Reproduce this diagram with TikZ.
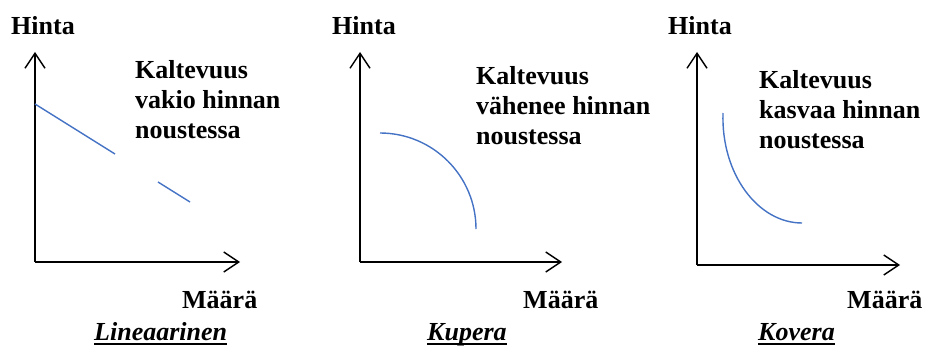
\documentclass[tikz,border=0pt]{standalone}
\usepackage{fontspec}
\setmainfont{Liberation Serif}
\usetikzlibrary{arrows.meta}
\definecolor{curveblue}{RGB}{68,114,196}
\begin{document}
\begin{tikzpicture}[x=1pt,y=-1pt,
  lbl/.style={inner sep=0pt,font=\fontsize{26}{30}\selectfont\bfseries,anchor=base west},
  desc/.style={inner sep=0pt,font=\fontsize{26}{30}\selectfont\bfseries,anchor=north west,align=left},
  ttl/.style={inner sep=0pt,font=\fontsize{26}{30}\selectfont\bfseries\itshape,anchor=base west},
  axis/.style={line width=1.6pt,-{Straight Barb[length=15pt,width=20pt,line width=1.4pt]}},
  curve/.style={line width=1.4pt,curveblue},
  uline/.style={line width=1.2pt}]
\useasboundingbox (0,0) rectangle (925,347);
% Panel 1
\coordinate (o1) at (35,262);
\coordinate (y1) at (35,52);
\coordinate (x1) at (240,262);
\draw[axis] (o1) -- (y1);
\draw[axis] (o1) -- (x1);
\node[lbl] (h1) at (11,35) {Hinta};
\node[lbl] (m1) at (182,308) {Määrä};
\node[desc] (d1) at (135,60) {Kaltevuus\\vakio hinnan\\noustessa};
\node[ttl] (t1) at (94,340) {Lineaarinen};
\draw[uline] ([yshift=-4pt]t1.base west) -- ([yshift=-4pt]t1.base east);
\coordinate (a1) at (35,104);
\coordinate (b1) at (115,154);
\coordinate (c1) at (158,182);
\coordinate (e1) at (190,202);
\draw[curve] (a1) -- (b1);
\draw[curve] (c1) -- (e1);
% Panel 2
\coordinate (o2) at (360,262);
\coordinate (y2) at (360,52);
\coordinate (x2) at (562,262);
\draw[axis] (o2) -- (y2);
\draw[axis] (o2) -- (x2);
\node[lbl] (h2) at (332,35) {Hinta};
\node[lbl] (m2) at (523,308) {Määrä};
\node[desc] (d2) at (476,66) {Kaltevuus\\vähenee hinnan\\noustessa};
\node[ttl] (t2) at (427,340) {Kupera};
\draw[uline] ([yshift=-4pt]t2.base west) -- ([yshift=-4pt]t2.base east);
\coordinate (a2) at (380,133);
\coordinate (b2) at (476,229);
\draw[curve] (a2) .. controls (433,133) and (476,176) .. (b2);
% Panel 3
\coordinate (o3) at (697,265);
\coordinate (y3) at (697,52);
\coordinate (x3) at (900,265);
\draw[axis] (o3) -- (y3);
\draw[axis] (o3) -- (x3);
\node[lbl] (h3) at (668,35) {Hinta};
\node[lbl] (m3) at (847,308) {Määrä};
\node[desc] (d3) at (759,70) {Kaltevuus\\kasvaa hinnan\\noustessa};
\node[ttl] (t3) at (758,340) {Kovera};
\draw[uline] ([yshift=-4pt]t3.base west) -- ([yshift=-4pt]t3.base east);
\coordinate (a3) at (723,113);
\coordinate (b3) at (802,223);
\draw[curve] (a3) .. controls (721,174) and (758,223) .. (b3);
\end{tikzpicture}
\end{document}
